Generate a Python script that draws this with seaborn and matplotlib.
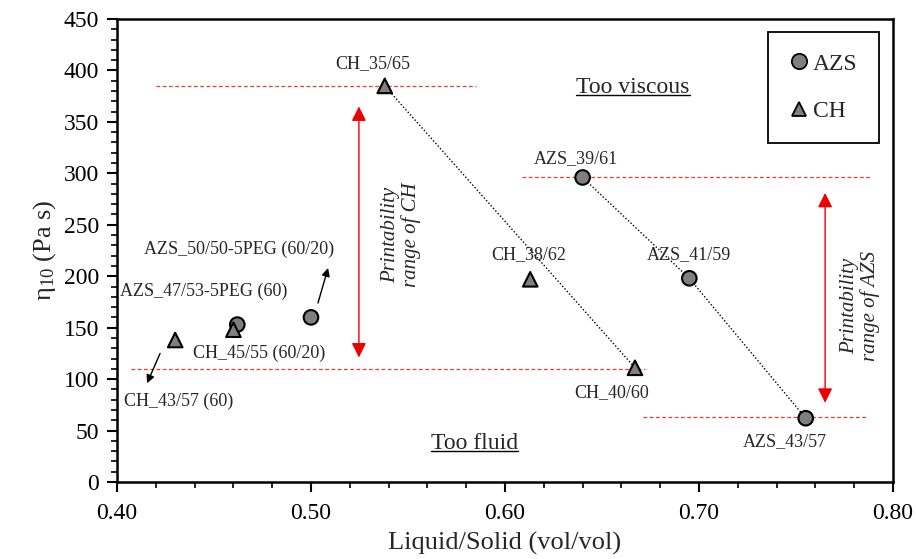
import numpy as np
import pandas as pd
import matplotlib
matplotlib.use("Agg")
import matplotlib.pyplot as plt
import seaborn as sns
from matplotlib.ticker import MultipleLocator, FormatStrFormatter
from matplotlib.lines import Line2D

# ---------------- data ----------------
azs_x = [0.640, 0.695, 0.755, 0.500, 0.462]
azs_y = [296, 198, 62, 160, 153]
ch_x = [0.538, 0.613, 0.667, 0.430, 0.460]
ch_y = [385, 197, 111, 138, 148]

azs_line_x = [0.640, 0.695, 0.755]
azs_line_y = [296, 198, 62]
ch_line_x = [0.538, 0.667]
ch_line_y = [385, 111]

series = ["AZS", "CH"]

# thresholds (red dashed lines): y, xmin, xmax
thr_y = [385, 110, 296, 63]
thr_xmin = [0.420, 0.407, 0.609, 0.671]
thr_xmax = [0.585, 0.672, 0.789, 0.787]

# printability arrows: x, low, high
pr_x = [0.5247, 0.765]
pr_lo = [121, 77]
pr_hi = [365, 281]

labels = ["CH_35/65", "AZS_39/61", "CH_38/62", "AZS_41/59", "CH_40/60", "AZS_43/57",
          "AZS_50/50-5PEG (60/20)", "AZS_47/53-5PEG (60)", "CH_45/55 (60/20)", "CH_43/57 (60)"]

x_ticks = [0.40, 0.50, 0.60, 0.70, 0.80]
y_ticks = [0, 50, 100, 150, 200, 250, 300, 350, 400, 450]

df = pd.DataFrame({
    "x": azs_x + ch_x,
    "y": azs_y + ch_y,
    "Material": [series[0]] * len(azs_x) + [series[1]] * len(ch_x),
})

# ---------------- style ----------------
sns.set_style("ticks")
plt.rcParams["font.family"] = ["Liberation Serif", "DejaVu Serif"]
plt.rcParams["mathtext.fontset"] = "custom"
plt.rcParams["mathtext.rm"] = "Liberation Serif"
plt.rcParams["mathtext.it"] = "Liberation Serif:italic"

fig = plt.figure(figsize=(9.16, 5.59), dpi=100)
ax = fig.add_axes([117 / 916, 1 - 482 / 559, (893 - 117) / 916, (482 - 19) / 559])

# connecting dotted lines
ax.plot(ch_line_x, ch_line_y, ls=(0, (1, 1.5)), color="black", lw=1, zorder=2)
ax.plot(azs_line_x, azs_line_y, ls=(0, (1, 1.5)), color="black", lw=1, zorder=2)

# threshold lines
for yv, x0, x1 in zip(thr_y, thr_xmin, thr_xmax):
    ax.hlines(yv, x0, x1, colors="#f03a3a", linestyles=(0, (3, 2)), lw=0.9, zorder=1)

# points
sns.scatterplot(data=df, x="x", y="y", style="Material", markers={"AZS": "o", "CH": "^"},
                color="#7f7f7f", edgecolor="black", linewidth=1.5, s=110, ax=ax,
                legend=False, zorder=4)

# printability arrows
for xv, lo, hi in zip(pr_x, pr_lo, pr_hi):
    ax.annotate("", xy=(xv, hi), xytext=(xv, lo),
                arrowprops=dict(arrowstyle="<|-|>", color="#ee0000", lw=1.0,
                                mutation_scale=22, shrinkA=0, shrinkB=0))

# small black pointer arrows
ax.annotate("", xy=(0.5088, 208), xytext=(0.5036, 174),
            arrowprops=dict(arrowstyle="-|>", color="black", lw=1.0, mutation_scale=12,
                            shrinkA=0, shrinkB=0))
ax.annotate("", xy=(0.4155, 96), xytext=(0.4222, 125),
            arrowprops=dict(arrowstyle="-|>", color="black", lw=1.0, mutation_scale=12,
                            shrinkA=0, shrinkB=0))

# point labels
fs = 13
ax.text(0.532, 407, labels[0], fontsize=fs, ha="center", va="center")
ax.text(0.6366, 314, labels[1], fontsize=fs, ha="center", va="center")
ax.text(0.612, 221, labels[2], fontsize=fs, ha="center", va="center")
ax.text(0.695, 221, labels[3], fontsize=fs, ha="center", va="center")
ax.text(0.655, 87, labels[4], fontsize=fs, ha="center", va="center")
ax.text(0.744, 39, labels[5], fontsize=fs, ha="center", va="center")
ax.text(0.414, 226, labels[6], fontsize=fs, ha="left", va="center")
ax.text(0.4015, 185, labels[7], fontsize=fs, ha="left", va="center")
ax.text(0.439, 125, labels[8], fontsize=fs, ha="left", va="center")
ax.text(0.4036, 78, labels[9], fontsize=fs, ha="left", va="center")

# region labels (underlined)
t1 = ax.text(0.666, 383, "Too viscous", fontsize=17, ha="center", va="center")
t2 = ax.text(0.5845, 37, "Too fluid", fontsize=17, ha="center", va="center")

# printability texts
ax.text(0.5465, 240, "Printability\nrange of CH", fontsize=15, style="italic",
        rotation=90, ha="center", va="center", linespacing=1.1)
ax.text(0.783, 171, "Printability\nrange of AZS", fontsize=15, style="italic",
        rotation=90, ha="center", va="center", linespacing=1.1)

# axes
ax.set_xlim(0.40, 0.80)
ax.set_ylim(0, 450)
ax.set_xticks(x_ticks)
ax.set_yticks(y_ticks)
ax.xaxis.set_major_formatter(FormatStrFormatter("%.2f"))
ax.xaxis.set_minor_locator(MultipleLocator(0.02))
ax.yaxis.set_minor_locator(MultipleLocator(10))
ax.tick_params(axis="both", which="major", direction="out", length=7, width=1.5,
               labelsize=17, color="black", labelcolor="black")
ax.tick_params(axis="x", which="major", pad=8)
ax.tick_params(axis="y", which="major", pad=6)
ax.tick_params(axis="both", which="minor", direction="out", length=4.5, width=1.2, color="black")
for sp in ax.spines.values():
    sp.set_visible(True)
    sp.set_linewidth(1.8)
    sp.set_color("black")

ax.set_xlabel("Liquid/Solid (vol/vol)", fontsize=19, labelpad=6)
ax.set_ylabel(r"η$_{\mathregular{10}}$ (Pa s)", fontsize=19, labelpad=4)

# legend
handles = [
    Line2D([], [], marker="o", ls="none", markerfacecolor="#7f7f7f", markeredgecolor="black",
           markeredgewidth=1.3, markersize=11, label=series[0]),
    Line2D([], [], marker="^", ls="none", markerfacecolor="#7f7f7f", markeredgecolor="black",
           markeredgewidth=1.3, markersize=10, label=series[1]),
]
leg = ax.legend(handles=handles, loc="upper right", bbox_to_anchor=(0.982, 0.972),
                borderaxespad=0, fontsize=17, frameon=True, fancybox=False,
                edgecolor="black", handlelength=0.8, handletextpad=0.2,
                labelspacing=1.1, borderpad=0.9, markerscale=1.0)
leg.get_frame().set_linewidth(1.3)
leg.get_frame().set_alpha(1)

# underline the region labels
fig.canvas.draw()
renderer = fig.canvas.get_renderer()
inv = ax.transData.inverted()
for t in (t1, t2):
    bb = t.get_window_extent(renderer)
    (x0, y0) = inv.transform((bb.x0, bb.y0 + 3))
    (x1, _) = inv.transform((bb.x1, bb.y0 + 3))
    ax.plot([x0, x1], [y0, y0], color="black", lw=1.0)

fig.savefig("out.png", dpi=100)
